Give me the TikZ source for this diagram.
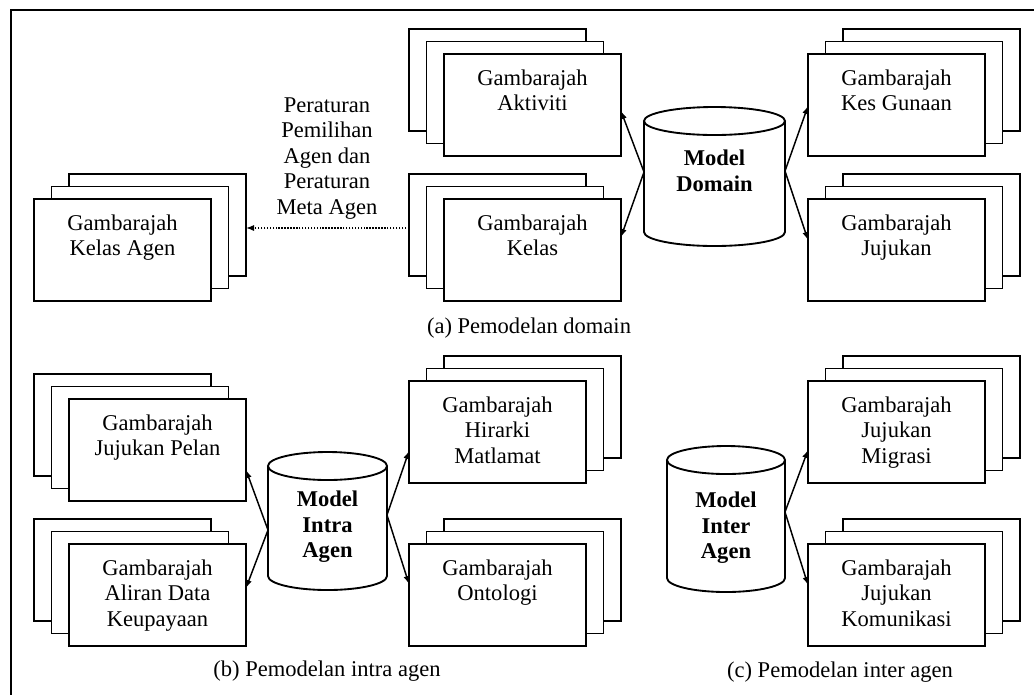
\documentclass[tikz,border=0pt]{standalone}
\usepackage{fontspec}
\setmainfont{Liberation Serif}
\usetikzlibrary{arrows.meta,calc}

% A stack of three diagram sheets: #1 name, #2/#3 top-left corner of the
% front sheet, #4 horizontal step of the sheets behind it, #5 caption
\newcommand\cardstack[5]{%
  \node[card] (#1-c) at ({#2+2*(#4)},{#3-25}) {};
  \node[card] (#1-b) at ({#2+(#4)},{#3-12.5}) {};
  \node[card] (#1) at (#2,#3) {};
  \node[cardtext] (#1-t) at ($(#1.north)+(0,15.5)$) {#5};
}

% A vertical data-store cylinder: #1 name, #2/#3 centre of the body,
% #4 width, #5 height between the ellipse centres (both in pt), #6 x radius
\newcommand\datastore[6]{%
  \node[store] (#1) at (#2,#3) [minimum width=#4, minimum height=#5] {};
  \draw[outline, fill=white] (#1.north west) -- (#1.south west)
    arc[start angle=180, end angle=360, x radius=#6, y radius=10.5pt]
    -- (#1.north east);
  \draw[outline, fill=white] (#1.north) ellipse[x radius=#6, y radius=10.5pt];
}

\begin{document}
\begin{tikzpicture}[x=0.75pt, y=-0.75pt,
  outline/.style={line width=1.4pt},
  card/.style={draw, fill=white, line width=1.4pt, minimum width=132.75pt,
    minimum height=76.5pt, inner sep=0pt, outer sep=0pt, anchor=north west},
  cardtext/.style={anchor=north, align=center, inner sep=0pt,
    font=\fontsize{16.9}{19.1}\selectfont},
  store/.style={draw=none, inner sep=0pt, outer sep=0pt},
  storetext/.style={align=center, inner sep=0pt,
    font=\fontsize{16.9}{19.1}\selectfont\bfseries},
  plaintext/.style={align=center, inner sep=0pt,
    font=\fontsize{16.9}{19.1}\selectfont},
  link/.style={line width=1.1pt, -{Latex[length=6pt, width=4.6pt]}},
  rulelink/.style={line width=1pt, dash pattern=on 1.1pt off 1.1pt,
    -{Latex[length=6pt, width=4.6pt]}}
]
\useasboundingbox (0,0) rectangle (1034,694);

% outer frame
\draw[outline] (11,700) -- (11,10) -- (1040,10);

% ---------------- (a) domain modelling ----------------
\cardstack{akt}{444}{54}{-17.5}{Gambarajah\\Aktiviti}
\cardstack{kel}{444}{199}{-17.5}{Gambarajah\\Kelas}
\cardstack{kes}{808}{54}{17.5}{Gambarajah\\Kes Gunaan}
\cardstack{juj}{808}{199}{17.5}{Gambarajah\\Jujukan}
\cardstack{kag}{34}{199}{17.5}{Gambarajah\\Kelas Agen}

\datastore{dom}{714.5}{176.5}{105.75pt}{83.25pt}{52.875pt}
\node[storetext] (dom-t) at (714.5,171) {Model\\Domain};

\draw[link] ($(dom.west)+(0,-4.5)$) -- ($(akt.east)+(0,6)$);
\draw[link] ($(dom.west)+(0,-4.5)$) -- ($(kel.east)+(0,-13)$);
\draw[link] ($(dom.east)+(0,-5.5)$) -- ($(kes.west)+(0,1)$);
\draw[link] ($(dom.east)+(0,-5.5)$) -- ($(juj.west)+(0,-10)$);

\node[plaintext] (rules) at (327,158.5)
  {Peraturan\\Pemilihan\\Agen dan\\Peraturan\\Meta Agen};
\draw[rulelink] ($(kel-c.west)+(0,3)$) -- ($(kag-c.east)+(0,3)$);

\node[plaintext] (capa) at (529,328) {(a) Pemodelan domain};

% ---------------- (b) intra-agent modelling ----------------
\cardstack{jp}{69}{399}{-17.5}{Gambarajah\\Jujukan Pelan}
\cardstack{ald}{69}{544}{-17.5}{Gambarajah\\Aliran Data\\Keupayaan}
\cardstack{hir}{409}{381}{17.5}{Gambarajah\\Hirarki\\Matlamat}
\cardstack{ont}{409}{544}{17.5}{Gambarajah\\Ontologi}

\datastore{intra}{327.5}{521}{89.25pt}{82.5pt}{44.625pt}
\node[storetext] (intra-t) at (327.5,527) {Model\\Intra\\Agen};

\draw[link] ($(intra.west)+(0,9)$) -- ($(jp.east)+(0,20)$);
\draw[link] ($(intra.west)+(0,9)$) -- ($(ald.east)+(0,-7)$);
\draw[link] ($(intra.east)+(0,-6)$) -- ($(hir.west)+(0,19)$);
\draw[link] ($(intra.east)+(0,-6)$) -- ($(ont.west)+(0,-11)$);

\node[plaintext] (capb) at (327,671) {(b) Pemodelan intra agen};

% ---------------- (c) inter-agent modelling ----------------
\cardstack{mig}{808}{381}{17.5}{Gambarajah\\Jujukan\\Migrasi}
\cardstack{kom}{808}{544}{17.5}{Gambarajah\\Jujukan\\Komunikasi}

\datastore{inter}{726}{519}{88.5pt}{88.5pt}{44.25pt}
\node[storetext] (inter-t) at (726,528) {Model\\Inter\\Agen};

\draw[link] ($(inter.east)+(0,-7)$) -- ($(mig.west)+(0,18)$);
\draw[link] ($(inter.east)+(0,-7)$) -- ($(kom.west)+(0,-10)$);

\node[plaintext] (capc) at (840,672) {(c) Pemodelan inter agen};
\end{tikzpicture}
\end{document}
